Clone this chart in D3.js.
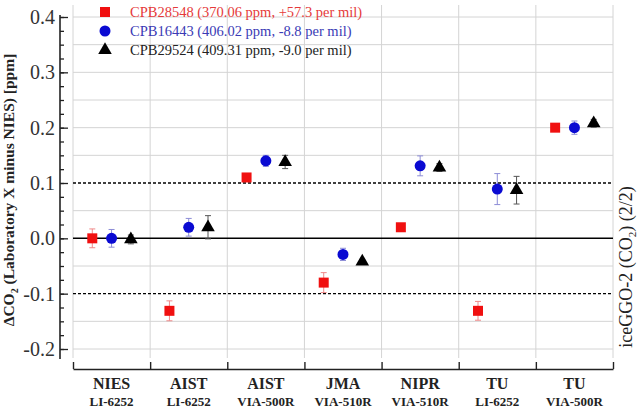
<!DOCTYPE html>
<html>
<head>
<meta charset="utf-8">
<script src="https://cdn.jsdelivr.net/npm/d3@7"></script>
<style>
  body { margin: 0; background: #fff; }
  svg { display: block; font-family: "Liberation Serif", "Times New Roman", serif; }
</style>
</head>
<body>
<svg id="chart" width="637" height="409"></svg>
<script>
// labs and instruments
const labs = ["NIES", "AIST", "AIST", "JMA", "NIPR", "TU", "TU"];
const instruments = ["LI-6252", "LI-6252", "VIA-500R", "VIA-510R", "VIA-510R", "LI-6252", "VIA-500R"];

// cylinder names for legend
const cylinders = ["CPB28548 (370.06 ppm, +57.3 per mil)", "CPB16443 (406.02 ppm, -8.8 per mil)", "CPB29524 (409.31 ppm, -9.0 per mil)"];

// differences from NIES [ppm]
const redValues   = [0.000, -0.131, 0.110, -0.080, 0.020, -0.131, 0.200];
const redErrors   = [0.017, 0.018, 0.004, 0.018, 0.004, 0.017, 0.004];
const blueValues  = [0.000, 0.020, 0.140, -0.029, 0.131, 0.089, 0.200];
const blueErrors  = [0.016, 0.016, 0.010, 0.011, 0.018, 0.028, 0.012];
const blackValues = [-0.002, 0.020, 0.138, -0.042, 0.128, 0.087, 0.208];
const blackErrors = [0.008, 0.021, 0.012, 0.004, 0.007, 0.025, 0.007];

const majorTicks = [-0.2, -0.1, 0.0, 0.1, 0.2, 0.3, 0.4];
const tickLabels = ["-0.2", "-0.1", "0.0", "0.1", "0.2", "0.3", "0.4"];

const serif = '"Liberation Serif", "Times New Roman", serif';
const svg = d3.select('#chart');

// plot frame
const plotLeft = 73, plotRight = 613, plotTop = 5, plotBottom = 358;

const x = d3.scaleBand()
    .domain(d3.range(labs.length))
    .range([plotLeft, plotRight]);

const xEdge = d3.scaleLinear()
    .domain([0, labs.length])
    .range([plotLeft, plotRight]);

const y = d3.scaleLinear()
    .domain([-0.2, 0.4])
    .range([349, 17]);

// offset of the three cylinders inside a lab
const series = [
    { name: cylinders[0], values: redValues, errors: redErrors, color: '#f01010', errColor: '#f08a8a', text: '#e53a3a', shape: d3.symbolSquare, size: 100 },
    { name: cylinders[1], values: blueValues, errors: blueErrors, color: '#0a0ad2', errColor: '#8c8cd6', text: '#3a3ab5', shape: d3.symbolCircle, size: 95 },
    { name: cylinders[2], values: blackValues, errors: blackErrors, color: '#000000', errColor: '#555555', text: '#222222', shape: d3.symbolTriangle, size: 80 }
];

const offset = d3.scalePoint()
    .domain(series.map(s => s.name))
    .range([x.bandwidth() * 0.25, x.bandwidth() * 0.75]);

// grid
const grid = svg.append('g');
const gridVals = d3.range(-0.2, 0.4001, 0.05).map(v => +v.toFixed(2))
    .filter(v => ![0, 0.1, -0.1].includes(v));

grid.selectAll('.hgrid')
    .data(gridVals)
    .join('line')
    .attr('x1', plotLeft).attr('x2', plotRight)
    .attr('y1', d => y(d)).attr('y2', d => y(d))
    .attr('stroke', '#d4d4d4').attr('stroke-width', 1);

grid.selectAll('.vgrid')
    .data(d3.range(labs.length + 1))
    .join('line')
    .attr('x1', d => xEdge(d)).attr('x2', d => xEdge(d))
    .attr('y1', plotTop).attr('y2', plotBottom)
    .attr('stroke', '#d4d4d4').attr('stroke-width', 1);

// reference lines
grid.append('line')
    .attr('x1', plotLeft).attr('x2', plotRight)
    .attr('y1', y(0)).attr('y2', y(0))
    .attr('stroke', '#000').attr('stroke-width', 1.5);

grid.selectAll('.dash')
    .data([0.1, -0.1])
    .join('line')
    .attr('x1', plotLeft).attr('x2', plotRight)
    .attr('y1', d => y(d)).attr('y2', d => y(d))
    .attr('stroke', '#000').attr('stroke-width', 1.3)
    .attr('stroke-dasharray', '3,2');

// y axis
const yAxisX = 60;
svg.append('g')
    .attr('transform', `translate(${yAxisX},0)`)
    .call(d3.axisLeft(y).tickValues(d3.range(-0.2, 0.4001, 0.025)).tickSize(-4).tickFormat(''))
    .call(g => g.select('.domain').remove())
    .call(g => g.selectAll('line').attr('stroke', '#222').attr('stroke-width', 1.3));

svg.append('g')
    .attr('transform', `translate(${yAxisX},0)`)
    .call(d3.axisLeft(y).tickValues(majorTicks).tickSize(-8).tickPadding(5)
        .tickFormat((d, i) => tickLabels[i]))
    .attr('font-family', serif)
    .attr('font-size', 20)
    .call(g => g.select('.domain').remove())
    .call(g => g.selectAll('line').attr('stroke', '#222').attr('stroke-width', 1.3))
    .call(g => g.selectAll('text').attr('fill', '#333'));

svg.append('line')
    .attr('x1', yAxisX).attr('x2', yAxisX)
    .attr('y1', 15).attr('y2', 359)
    .attr('stroke', '#222').attr('stroke-width', 1.6);

// x axis
const xAxisY = 369;
svg.append('g')
    .attr('transform', `translate(0,${xAxisY})`)
    .call(d3.axisBottom(xEdge).tickValues(d3.range(labs.length + 1)).tickSize(-7).tickSizeOuter(0).tickFormat(''))
    .call(g => g.select('.domain').attr('stroke', '#222').attr('stroke-width', 1.6))
    .call(g => g.selectAll('line').attr('stroke', '#222').attr('stroke-width', 1.4));

const catLabels = svg.append('g')
    .attr('font-family', serif)
    .selectAll('g')
    .data(d3.range(labs.length))
    .join('g')
    .attr('transform', i => `translate(${x(i) + x.bandwidth() / 2},0)`);

catLabels.append('text')
    .attr('y', 389)
    .attr('text-anchor', 'middle')
    .attr('font-weight', 'bold')
    .attr('font-size', 16)
    .attr('fill', '#222')
    .text(i => labs[i]);

catLabels.append('text')
    .attr('y', 405.5)
    .attr('text-anchor', 'middle')
    .attr('font-weight', 'bold')
    .attr('font-size', 13)
    .attr('fill', '#222')
    .text(i => instruments[i]);

// y label
const yLab = svg.append('text')
    .attr('transform', 'translate(14,190) rotate(-90)')
    .attr('text-anchor', 'middle')
    .attr('font-family', serif)
    .attr('font-weight', 'bold')
    .attr('font-size', 15.5)
    .attr('fill', '#222');
yLab.append('tspan').text('\u0394CO');
yLab.append('tspan').attr('font-size', 10).attr('dy', 4).text('2');
yLab.append('tspan').attr('dy', -4).text(' (Laboratory X minus NIES) [ppm]');

// right label
const rLab = svg.append('text')
    .attr('transform', 'translate(632,267) rotate(-90)')
    .attr('text-anchor', 'middle')
    .attr('font-family', serif)
    .attr('font-size', 18)
    .attr('fill', '#222');
rLab.append('tspan').text('iceGGO-2 (CO');
rLab.append('tspan').attr('font-size', 11).attr('dy', 4).text('2');
rLab.append('tspan').attr('dy', -4).text(') (2/2)');

// points with error bars
const groups = svg.append('g')
    .selectAll('g')
    .data(series)
    .join('g');

groups.each(function(s) {
    const g = d3.select(this);
    const pts = s.values.map((v, i) => ({ i, v, e: s.errors[i] }));
    const px = d => x(d.i) + offset(s.name);

    g.selectAll('.err')
        .data(pts)
        .join('line')
        .attr('x1', px).attr('x2', px)
        .attr('y1', d => y(d.v - d.e)).attr('y2', d => y(d.v + d.e))
        .attr('stroke', s.errColor).attr('stroke-width', 1);

    ['top', 'bot'].forEach(k => {
        g.selectAll('.cap-' + k)
            .data(pts)
            .join('line')
            .attr('x1', d => px(d) - 3).attr('x2', d => px(d) + 3)
            .attr('y1', d => y(k === 'top' ? d.v + d.e : d.v - d.e))
            .attr('y2', d => y(k === 'top' ? d.v + d.e : d.v - d.e))
            .attr('stroke', s.errColor).attr('stroke-width', 1);
    });

    g.selectAll('.mark')
        .data(pts)
        .join('path')
        .attr('d', d3.symbol().type(s.shape).size(s.size))
        .attr('transform', d => `translate(${px(d)},${y(d.v)})`)
        .attr('fill', s.color);
});

// legend
const legend = svg.append('g')
    .attr('font-family', serif)
    .selectAll('g')
    .data(series)
    .join('g')
    .attr('transform', (d, i) => `translate(105,${12 + i * 19})`);

legend.append('path')
    .attr('d', d => d3.symbol().type(d.shape).size(d.size)())
    .attr('fill', d => d.color);

legend.append('text')
    .attr('x', 25)
    .attr('y', 5)
    .attr('font-size', 14.5)
    .attr('fill', d => d.text)
    .text(d => d.name);
</script>
</body>
</html>
